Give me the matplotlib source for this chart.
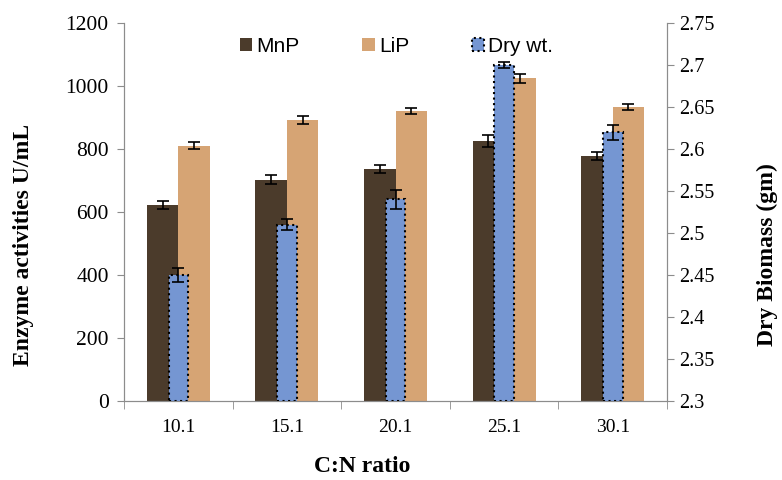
import matplotlib.pyplot as plt
import numpy as np

ratios = ["10.1", "15.1", "20.1", "25.1", "30.1"]
mnp = [622, 702, 737, 826, 778]
mnp_err = [12, 14, 13, 20, 14]
lip = [810, 892, 921, 1024, 933]
lip_err = [11, 12, 10, 13, 10]
dry_wt = [2.45, 2.51, 2.54, 2.70, 2.62]
dry_err = [0.008, 0.007, 0.011, 0.004, 0.009]

serif = "Liberation Serif"
sans = "Liberation Sans"
grey = "#8c8c8c"


def style_spines(ax):
    for side in ["left", "right", "bottom"]:
        ax.spines[side].set_color(grey)
    ax.spines["top"].set_visible(False)


def main():
    fig = plt.figure(figsize=(7.82, 4.8), dpi=100)
    ax = fig.add_axes([0.1586, 0.1646, 0.6944, 0.7875])
    ax2 = ax.twinx()

    x = np.arange(len(ratios))
    w = 0.29
    ekw = dict(ecolor="black", elinewidth=1.2, capsize=4, capthick=1.2)

    b1 = ax.bar(x - w / 2, mnp, w, color="#4b3b2b", yerr=mnp_err,
                error_kw=ekw, label="MnP", zorder=2)
    b2 = ax.bar(x + w / 2, lip, w, color="#d6a474", yerr=lip_err,
                error_kw=ekw, label="LiP", zorder=2)
    b3 = ax2.bar(x, [v - 2.3 for v in dry_wt], 0.18, bottom=2.3,
                 color="#7596d2", edgecolor="black", linestyle=":",
                 linewidth=1.5, yerr=dry_err, error_kw=ekw,
                 label="Dry wt.", zorder=3)

    ax.set_xlim(-0.5, len(ratios) - 0.5)
    ax.set_ylim(0, 1200)
    ax.set_yticks(range(0, 1201, 200))
    ax2.set_ylim(2.3, 2.75)
    ax2.set_yticks(np.arange(2.3, 2.76, 0.05))
    ax2.set_yticklabels(["2.3", "2.35", "2.4", "2.45", "2.5", "2.55",
                         "2.6", "2.65", "2.7", "2.75"])

    # category labels in the middle, ticks on the boundaries
    ax.set_xticks(x)
    ax.set_xticklabels(ratios)
    ax.set_xticks(np.arange(-0.5, len(ratios)), minor=True)
    ax.tick_params(axis="x", which="major", length=0, pad=13)
    ax.tick_params(axis="x", which="minor", length=6, color=grey)

    style_spines(ax)
    style_spines(ax2)
    ax.tick_params(axis="y", length=5, color=grey, pad=6)
    ax2.tick_params(axis="y", length=5, color=grey, pad=4)
    for lab in ax.get_xticklabels():
        lab.set_fontfamily(serif)
        lab.set_fontsize(14)
    for lab in ax.get_yticklabels():
        lab.set_fontfamily(serif)
        lab.set_fontsize(15.5)
    for lab in ax2.get_yticklabels():
        lab.set_fontfamily(serif)
        lab.set_fontsize(14.5)

    # axis titles sit where the original had them dragged to
    title_kw = dict(fontfamily=serif, fontsize=17, fontweight="bold",
                    ha="center", va="center")
    fig.text(362 / 782, 1 - 467 / 480, "C:N ratio", **title_kw)
    fig.text(24 / 782, 1 - 245 / 480, "Enzyme activities U/mL",
             rotation=90, **title_kw)
    fig.text(767 / 782, 1 - 255 / 480, "Dry Biomass (gm)",
             rotation=90, **title_kw)

    leg = ax2.legend([b1, b2, b3], ["MnP", "LiP", "Dry wt."], ncol=3,
                     loc="center", bbox_to_anchor=(0.502, 0.939),
                     frameon=False, prop={"family": sans, "size": 15},
                     handlelength=0.6, handleheight=0.6, handletextpad=0.2,
                     columnspacing=3.0)
    leg.set_zorder(5)

    fig.savefig("out.png", dpi=100)


if __name__ == "__main__":
    main()
